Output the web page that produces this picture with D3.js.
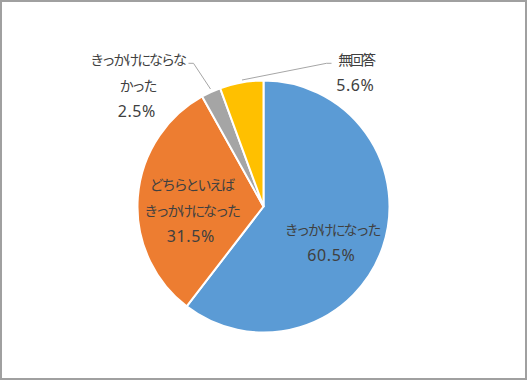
<!DOCTYPE html>
<html><head><meta charset="utf-8">
<script src="https://cdn.jsdelivr.net/npm/d3@7"></script>
<style>
body{margin:0;background:#fff;}
svg{display:block;}
</style></head>
<body>
<svg id="chart" width="527" height="380"></svg>
<script>
const categories = ["きっかけになった", "どちらといえばきっかけになった", "きっかけにならなかった", "無回答"];
const values = [60.5, 31.5, 2.5, 5.6];
const labelLines = [["きっかけになった"], ["どちらといえば", "きっかけになった"], ["きっかけにならな", "かった"], ["無回答"]];
const percentLabels = ["60.5%", "31.5%", "2.5%", "5.6%"];
const colors = ["#5B9BD5", "#ED7D31", "#A5A5A5", "#FFC000"];

const svg = d3.select("#chart");
svg.append("rect").attr("x",1).attr("y",1).attr("width",525).attr("height",378)
  .attr("fill","#fff").attr("stroke","#a0a0a0").attr("stroke-width",2);

const cx = 263.5, cy = 206.5, r = 126;
const pie = d3.pie().sort(null).value(d => d);
const arcs = pie(values);
const arc = d3.arc().innerRadius(0).outerRadius(r);
const g = svg.append("g").attr("transform", `translate(${cx},${cy})`);
g.selectAll("path").data(arcs).enter().append("path")
  .attr("d", arc).attr("fill", (d,i) => colors[i])
  .attr("stroke", "#fff").attr("stroke-width", 2).attr("stroke-linejoin","round");

const labelPos = [[331, 228.5], [190.5, 184], [136.5, 58.8], [355, 58.8]];
const lineGap = 26;
const jpFont = "'Noto Sans CJK JP', sans-serif";
const numFont = "'Noto Sans', 'DejaVu Sans', sans-serif";

const leaders = [null, null,
  [[188.5,63.3],[193.5,63.3],[210.5,89]],
  [[331.5,63.3],[326.5,63.3],[242,80]]];
const line = d3.line();
leaders.forEach(p => {
  if (!p) return;
  svg.append("path").attr("d", line(p)).attr("fill","none")
    .attr("stroke","#a6a6a6").attr("stroke-width",1);
});

labelLines.forEach((lines, i) => {
  const [x, y] = labelPos[i];
  lines.forEach((t, j) => {
    svg.append("text").attr("x", x + 1).attr("y", y + j*lineGap)
      .attr("text-anchor","middle").attr("dominant-baseline","central")
      .attr("font-family", jpFont).attr("font-size", 14)
      .attr("letter-spacing", "-2.1px")
      .attr("fill", "#404040").text(t);
  });
  svg.append("text").attr("x", x + 0.3).attr("y", y + lines.length*lineGap)
    .attr("text-anchor","middle").attr("dominant-baseline","central")
    .attr("font-family", numFont).attr("font-size", 16)
    .attr("letter-spacing", "0.6px")
    .attr("fill", "#404040").text(percentLabels[i]);
});
</script>
</body></html>
